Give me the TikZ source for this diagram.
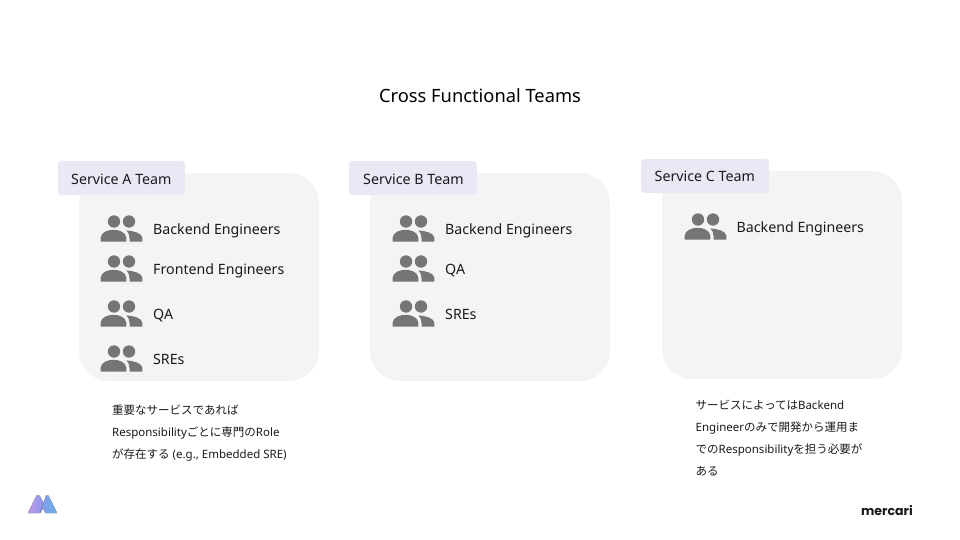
\documentclass[tikz,border=0pt]{standalone}
\usepackage{fontspec}
\setmainfont{Noto Sans}
\newfontfamily\cjk{Noto Sans CJK JP}
\newfontfamily\brandfont{Poppins}
\definecolor{panelgray}{HTML}{F4F4F4}
\definecolor{taglilac}{HTML}{ECE7F5}
\definecolor{icongray}{HTML}{757575}
\definecolor{inkdark}{HTML}{1A1A1A}
\definecolor{logoviolet}{HTML}{CBA0F6}
\definecolor{logoblue}{HTML}{6FBDF8}
\definecolor{logomid}{HTML}{8FA0F4}
\tikzset{
  panel/.style={fill=panelgray,rounded corners=30pt,draw=none},
  tag/.style={fill=taglilac,rounded corners=3pt,draw=none},
  taglabel/.style={anchor=base west,font=\fontsize{14.25}{17}\selectfont,text=inkdark,inner sep=0pt},
  rolelabel/.style={anchor=base west,font=\fontsize{14.2}{17}\selectfont,text=inkdark,inner sep=0pt},
  note/.style={anchor=base west,font=\fontsize{11.5}{14}\selectfont,text=inkdark,inner sep=0pt},
  heading/.style={font=\fontsize{18.3}{22}\selectfont,text=black,inner sep=0pt},
  people/.pic={
    \fill[icongray] (14,-7.5) circle (6.2);
    \fill[icongray] (29,-7.5) circle (6.2);
    \fill[icongray] (0.7,12.7) -- (0.7,8.5) .. controls (1.2,3) and (8.5,0.8) .. (13.5,0.8)
      .. controls (18.5,0.8) and (25.8,3) .. (26.3,8.5) -- (26.3,12.7) -- cycle;
    \fill[icongray] (29.5,12.7) -- (29.5,9) .. controls (29.5,6) and (28.5,3.5) .. (26.5,1.4)
      .. controls (33,1.8) and (41.8,4) .. (42.3,8.5) -- (42.3,12.7) -- cycle;
  }
}
\begin{document}
\begin{tikzpicture}[x=1pt,y=-1pt]
\useasboundingbox (0,0) rectangle (960,540);
\node[heading] (title) at (480,95.5) {Cross Functional Teams};

% Service A
\fill[panel] (79,173) rectangle (319,381);
\fill[tag] (58,161) rectangle (185,195);
\node[taglabel] (tagA) at (71,184) {Service A Team};
\pic at (100,229) {people};
\node[rolelabel] (a1) at (153,234) {Backend Engineers};
\pic at (100,269) {people};
\node[rolelabel] (a2) at (153,274) {Frontend Engineers};
\pic at (100,314) {people};
\node[rolelabel] (a3) at (153,319) {QA};
\pic at (100,359) {people};
\node[rolelabel] (a4) at (153,364) {SREs};

% Service B
\fill[panel] (370,173) rectangle (610,381);
\fill[tag] (349,161) rectangle (477,195);
\node[taglabel] (tagB) at (363,184) {Service B Team};
\pic at (392,229) {people};
\node[rolelabel] (b1) at (445,234) {Backend Engineers};
\pic at (392,269) {people};
\node[rolelabel] (b2) at (445,274) {QA};
\pic at (392,314) {people};
\node[rolelabel] (b3) at (445,319) {SREs};

% Service C
\fill[panel] (662,171) rectangle (902,379);
\fill[tag] (641,159) rectangle (769,193);
\node[taglabel] (tagC) at (654.5,181.5) {Service C Team};
\pic at (684,227) {people};
\node[rolelabel] (c1) at (736.5,232) {Backend Engineers};

% Notes
\node[note] (na1) at (112,414) {{\cjk 重要なサービスであれば}};
\node[note] (na2) at (112,436) {Responsibility{\cjk ごとに専門の}Role};
\node[note] (na3) at (112,458) {{\cjk が存在する} (e.g., Embedded SRE)};
\node[note] (nc1) at (695.5,409) {{\cjk サービスによっては}Backend};
\node[note] (nc2) at (695.5,431) {Engineer{\cjk のみで開発から運用ま}};
\node[note] (nc3) at (695.5,453) {{\cjk での}Responsibility{\cjk を担う必要が}};
\node[note] (nc4) at (695.5,475) {{\cjk ある}};

% Brand marks
\fill[left color=logoviolet,right color=logomid,opacity=.95] (28,513) -- (36.5,495.5) -- (39.5,495.5) -- (43.5,503) -- (40,513) -- cycle;
\fill[left color=logomid,right color=logoblue,opacity=.95] (40,513) -- (43.5,503) -- (46,495.5) -- (48.5,495.5) -- (57,513) -- (45.5,513) -- (43,508) -- cycle;
\node[anchor=base east,font=\fontsize{12.6}{15}\selectfont\bfseries\brandfont,text=inkdark,inner sep=0pt] (brand) at (913,515) {mercari};
\end{tikzpicture}
\end{document}
